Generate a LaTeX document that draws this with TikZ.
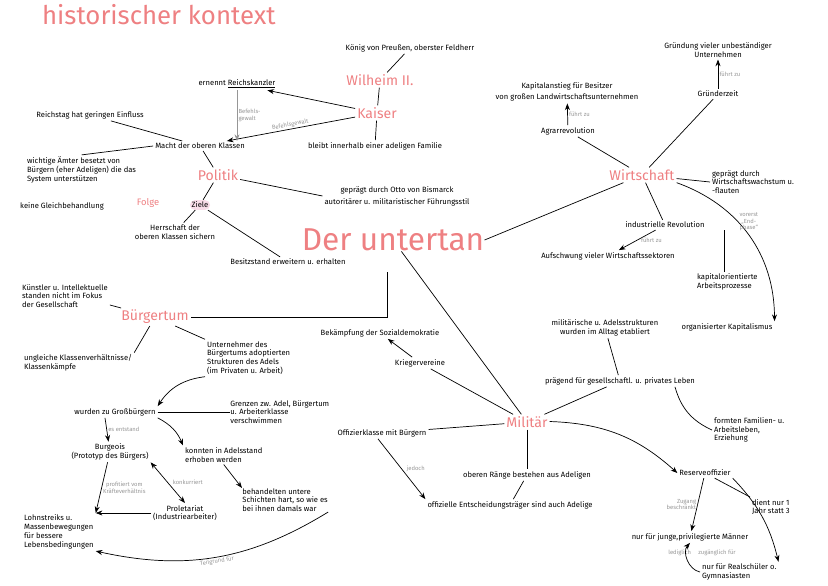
\documentclass[tikz,border=0pt]{standalone}
\usepackage{fontspec}
\setmainfont{Fira Sans}
\usetikzlibrary{arrows.meta}
\definecolor{rosa}{RGB}{238,128,130}
\definecolor{grau}{RGB}{150,150,150}
\definecolor{rosafill}{RGB}{248,220,232}

\begin{document}
\begin{tikzpicture}[x = 0.03cm, y = -0.03cm, every node/.style = {font = \fontsize{6.5}{7.5}\selectfont, inner sep = 1.5pt, align = center},
  head/.style = {text = rosa, font = \fontsize{12}{13}\selectfont},
  lbl/.style = {text = grau, font = \fontsize{5}{5.5}\selectfont, inner sep = 1pt},
  >=Stealth, line width = 0.6pt]

	\useasboundingbox (0,0) rectangle (828,586);

	\node (TIT) at (40, 15) [anchor = west, text = rosa, font = \fontsize{22}{24}\selectfont] {historischer kontext};
	\node (UT)  at (393,240) [text = rosa, inner sep = 0pt, font = \fontsize{27}{29}\selectfont] {Der untertan};

	% Politik
	\node (KOE) at (410, 48) {König von Preußen, oberster Feldherr};
	\node (WIL) at (380, 80) [head] {Wilheim II.};
	\node (RK)  at (237, 84) {ernennt \underline{Reichskanzler}};
	\node (KAI) at (377,113) [head] {Kaiser};
	\node (RT)  at (90, 115) {Reichstag hat geringen Einfluss};
	\node (MAC) at (200,146) {Macht der oberen Klassen};
	\node (ADL) at (375,146) {bleibt innerhalb einer adeligen Familie};
	\node (POL) at (218,175) [head] {Politik};
	\node (WIC) at (25, 170) [anchor = west, align = left] {wichtige Ämter besetzt von\\Bürgern (eher Adeligen) die das\\System unterstützen};
	\node (BIS) at (397,196) {geprägt durch Otto von Bismarck\\[3pt]autoritärer u. militaristischer Führungsstil};
	\node (GLE) at (62, 206) {keine Gleichbehandlung};
	\node (FOL) at (148,203) [text = rosa, font = \fontsize{8}{9}\selectfont] {Folge};
	\node (ZIE) at (200,205) [fill = rosafill, rounded corners = 4pt] {Ziele};
	\node (HER) at (175,232) {Herrschaft der\\oberen Klassen sichern};
	\node (BES) at (288,262) {Besitzstand erweitern u. erhalten};

	\draw (WIL) -- (KOE);
	\draw (WIL) -- (KAI);
	\draw (KAI) -- (ADL);
	\draw [->] (KAI) -- (RK);
	\draw [->] (KAI) -- node [lbl, sloped, above] {Befehlsgewalt} (MAC);
	\draw [->, grau] (RK) -- node [lbl, right, align = left] {Befehls-\\gewalt} (RK |- MAC.north);
	\draw (MAC) -- (RT);
	\draw (MAC.west) -- (WIC.north);
	\draw (MAC) -- (POL);
	\draw (POL) -- (BIS.west);
	\draw (POL) -- (ZIE);
	\draw (ZIE) -- (HER);
	\draw (ZIE) -- (BES);

	% Buergertum
	\node (KUE) at (20, 296) [anchor = west, align = left] {Künstler u. Intellektuelle\\standen nicht im Fokus\\der Gesellschaft};
	\node (BUE) at (155,317) [head] {Bürgertum};
	\node (UNG) at (22, 363) [anchor = west, align = left] {ungleiche Klassenverhältnisse/\\Klassenkämpfe};
	\node (UNT) at (205,358) [anchor = west, align = left] {Unternehmer des\\Bürgertums adoptierten\\Strukturen des Adels\\(im Privaten u. Arbeit)};
	\node (GRO) at (115,412) {wurden zu Großbürgern};
	\node (GRE) at (230,412) [anchor = west, align = left, inner sep = 0pt] {Grenzen zw. Adel, Bürgertum\\u. Arbeiterklasse\\verschwimmen};
	\node (BOU) at (110,452) {Burgeois\\(Prototyp des Bürgers)};
	\node (KON) at (183,455) [anchor = west, align = left] {konnten in Adelsstand\\erhoben werden};
	\node (BEH) at (242,500) [anchor = west, align = left, inner sep = 0pt] {behandelten untere\\Schichten hart, so wie es\\bei ihnen damals war};
	\node (LOH) at (22, 532) [anchor = west, align = left] {Lohnstreiks u.\\Massenbewegungen\\für bessere\\Lebensbedingungen};
	\node (PRO) at (185,513) {Proletariat\\(Industriearbeiter)};

	\draw (387,272) |- (BUE);
	\draw (BUE) -- (KUE.east |- 0,305);
	\draw (BUE) -- (UNG.north east);
	\draw (BUE) -- (UNT.north west);
	\draw [->] (UNT.south west) to [bend right = 25] (GRO.north east);
	\draw (GRO) -- (GRE);
	\draw [->] (GRO.south -| 105,0) -- node [lbl, right] {es entstand} (BOU);
	\draw [->] (GRO.south east) to [bend left = 20] (KON.north west);
	\draw [->] (KON.south) -- (BEH.north west);
	\draw [->] (BOU) -- node [lbl, right] {profitiert vom\\Kräfteverhältnis} (LOH.north east);
	\draw [<->] (BOU.south east) -- node [lbl, right = 3pt] {konkurriert} (PRO.north);
	\draw [->] (PRO) -- (LOH.east |- PRO);
	\draw [->] (BEH.south east) to [bend left = 22] node [lbl, below, sloped] {Teilgrund für} (LOH.south east);

	% Wirtschaft
	\node (KAP) at (567, 92) {Kapitalanstieg für Besitzer\\[2pt]von großen Landwirtschaftsunternehmen};
	\node (AGR) at (568,131) {Agrarrevolution};
	\node (GRD) at (718, 50) {Gründung vieler unbeständiger\\Unternehmen};
	\node (GZT) at (718, 94) {Gründerzeit};
	\node (WIR) at (642,175) [head] {Wirtschaft};
	\node (GEP) at (710,182) [anchor = west, align = left] {geprägt durch\\Wirtschaftswachstum u.\\-flauten};
	\node (IND) at (665,225) {industrielle Revolution};
	\node (AUF) at (608,256) {Aufschwung vieler Wirtschaftssektoren};
	\node (KOR) at (695,282) [anchor = west, align = left] {kapitalorientierte\\Arbeitsprozesse};
	\node (ORG) at (727,327) {organisierter Kapitalismus};

	\draw (UT.east) -- (WIR);
	\draw (WIR) -- (AGR);
	\draw [->] (AGR) -- node [lbl, right] {führt zu} (KAP);
	\draw (WIR) -- (GZT);
	\draw [->] (GZT) -- node [lbl, right] {führt zu} (GRD);
	\draw (WIR) -- (GEP.west);
	\draw (WIR) -- (IND);
	\draw [->] (IND) -- node [lbl, right = 2pt] {führt zu} (AUF);
	\draw (IND.south -| 724,0) -- (KOR.north -| 724,0);
	\draw [->] (WIR.south east) to [bend left = 35] node [lbl, right, pos = 0.4] {vorerst\\„End-\\phase“} (ORG.north east);

	% Militaer
	\node (MST) at (605,328) {militärische u. Adelsstrukturen\\wurden im Alltag etabliert};
	\node (BEK) at (380,333) {Bekämpfung der Sozialdemokratie};
	\node (KRI) at (420,363) {Kriegervereine};
	\node (PRG) at (620,381) {prägend für gesellschaftl. u. privates Leben};
	\node (FOR) at (712,430) [anchor = west, align = left] {formten Familien- u.\\Arbeitsleben,\\Erziehung};
	\node (MIL) at (527,422) [head] {Militär};
	\node (OFF) at (382,433) {Offizierklasse mit Bürgern};
	\node (OBE) at (527,475) {oberen Ränge bestehen aus Adeligen};
	\node (OFI) at (510,505) {offizielle Entscheidungsträger sind auch Adelige};
	\node (RES) at (705,473) {Reserveoffizier};
	\node (DIE) at (750,507) [anchor = west, align = left] {dient nur 1\\Jahr statt 3};
	\node (JUN) at (690,537) {nur für junge,privilegierte Männer};
	\node (REA) at (700,572) [anchor = west, align = left] {nur für Realschüler o.\\Gymnasiasten};
	\node (LED) at (702,553) [lbl] {lediglich \quad zugänglich für};

	\draw (UT) -- (MIL);
	\draw (MIL) -- (KRI);
	\draw [->] (KRI) -- (BEK);
	\draw (MIL) -- (PRG);
	\draw (PRG) -- (MST);
	\draw (PRG.south -| 675,0) to [bend right = 25] (FOR.west);
	\draw (MIL) -- (OFF);
	\draw [->] (OFF.south -| 378,0) -- node [lbl, right = 3pt] {jedoch} (OFI.north west);
	\draw (MIL) -- (OBE);
	\draw (OBE) -- (OFI);
	\draw [->] (MIL) to [bend left = 20] (RES.west);
	\draw [->] (RES) -- node [lbl, left, align = right] {Zugang\\beschränkt} (JUN);
	\draw (RES) -- (DIE.north west);
	\draw [->] (RES.south east) to [bend left = 15] (REA.north east);
	\draw [->] (REA.west) to [bend left = 60] (JUN.south);

\end{tikzpicture}
\end{document}
